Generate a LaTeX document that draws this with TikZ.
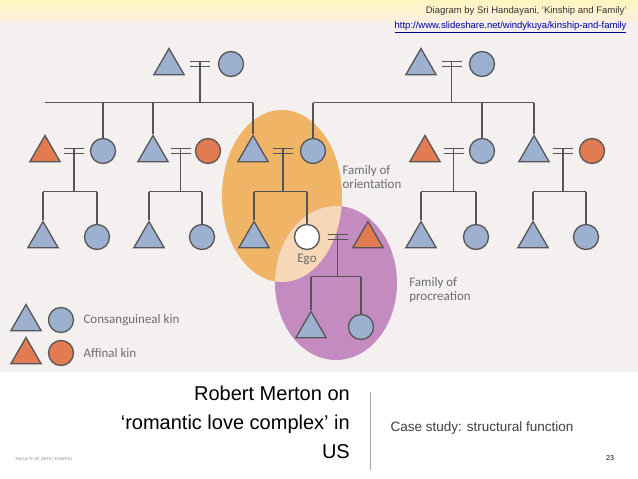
\documentclass[tikz,border=0pt]{standalone}
\usepackage{fontspec}
\setmainfont{Liberation Sans}
\newfontfamily\dg{Carlito}
\usetikzlibrary{shapes.geometric}
\definecolor{kb}{HTML}{9DB0D0}
\definecolor{ko}{HTML}{E27B52}
\definecolor{eo}{HTML}{F0B466}
\definecolor{ep}{HTML}{C48BC0}
\definecolor{ov}{HTML}{F6D8B8}
\definecolor{pan}{HTML}{F4F0F0}
\definecolor{ln}{HTML}{555555}
\tikzset{
 tri/.style={regular polygon,regular polygon sides=3,minimum size=35pt,inner sep=0,draw=ln,line width=1.3pt,yshift=-2pt},
 circ/.style={circle,minimum size=25pt,inner sep=0,draw=ln,line width=1.3pt},
 ln/.style={draw=ln,line width=1.4pt},
 lab/.style={font=\dg\fontsize{13}{14}\selectfont,text=gray!85!black,align=left}
}
\newcommand{\couple}[6]{% name, tri x, circ x, y, tricolor, circcolor
 \node[tri,fill=#5] (#1t) at (#2,#4) {};
 \node[circ,fill=#6] (#1c) at (#3,#4) {};
 \coordinate (#1m) at ({(#2+#3)/2},#4);
 \draw[ln] ([xshift=-10pt,yshift=-2.5pt]#1m) -- ([xshift=10pt,yshift=-2.5pt]#1m);
 \draw[ln] ([xshift=-10pt,yshift=2.5pt]#1m) -- ([xshift=10pt,yshift=2.5pt]#1m);
}
\begin{document}
\begin{tikzpicture}[x=1pt,y=-1pt]
\useasboundingbox (0,0) rectangle (638,479);
\fill[white] (0,0) rectangle (638,479);
\shade[top color=orange!30!yellow!25,bottom color=orange!12] (0,0) rectangle (638,22);
\fill[pan] (0,22) rectangle (638,372);
% ellipses
\fill[eo] (282,196) ellipse [x radius=60,y radius=86];
\fill[ep] (336,283) ellipse [x radius=61,y radius=77];
\begin{scope}
\clip (282,196) ellipse [x radius=60,y radius=86];
\fill[ov] (336,283) ellipse [x radius=61,y radius=77];
\end{scope}
% header
\node[anchor=east,font=\fontsize{9.5}{11}\selectfont,text=black!80] (h1) at (630,11) {Diagram by Sri Handayani, ‘Kinship and Family’};
\node[anchor=east,font=\fontsize{9.5}{11}\selectfont,text=blue!60!black] (h2) at (630,27) {\underline{http://www.slideshare.net/windykuya/kinship-and-family}};
% generation 1
\couple{A}{169}{231}{64}{kb}{kb}
\couple{B}{421}{482}{64}{kb}{kb}
% generation 2
\couple{C}{45}{103}{151}{ko}{kb}
\couple{D}{153}{208}{151}{kb}{ko}
\couple{E}{253}{313}{151}{kb}{kb}
\couple{F}{425}{482}{151}{ko}{kb}
\couple{G}{534}{592}{151}{kb}{ko}
% generation 3
\node[tri,fill=kb] (c1) at (43,237) {};
\node[circ,fill=kb] (c2) at (97,237) {};
\node[tri,fill=kb] (d1) at (149,237) {};
\node[circ,fill=kb] (d2) at (202,237) {};
\node[tri,fill=kb] (e1) at (254,237) {};
\couple{H}{368}{307}{237}{ko}{white}
\node[tri,fill=kb] (f1) at (421,237) {};
\node[circ,fill=kb] (f2) at (476,237) {};
\node[tri,fill=kb] (g1) at (533,237) {};
\node[circ,fill=kb] (g2) at (586,237) {};
% generation 4
\node[tri,fill=kb] (h1c) at (311,327) {};
\node[circ,fill=kb] (h2c) at (361,327) {};
% connectors
\draw[ln] ([yshift=2.5pt]Am) -- ++(0,41) coordinate (Ab);
\draw[ln] (Ct.north |- Ab) -- (Et.north |- Ab);
\draw[ln] (Cc.north |- Ab) -- (Cc.north);
\draw[ln] (Dt.north |- Ab) -- (Dt.north);
\draw[ln] (Et.north |- Ab) -- (Et.north);
\draw[ln] ([yshift=2.5pt]Bm) -- ++(0,41) coordinate (Bb);
\draw[ln] (Ec.north |- Bb) -- (Gt.north |- Bb);
\draw[ln] (Ec.north |- Bb) -- (Ec.north);
\draw[ln] (Fc.north |- Bb) -- (Fc.north);
\draw[ln] (Gt.north |- Bb) -- (Gt.north);
\foreach \m/\a/\b in {C/c1/c2,D/d1/d2,E/e1/Hc,F/f1/f2,G/g1/g2}{
 \draw[ln] ([yshift=2.5pt]\m m) -- ++(0,43) coordinate (\m b);
 \draw[ln] (\a.north |- \m b) -- (\b.north |- \m b);
 \draw[ln] (\a.north |- \m b) -- (\a.north);
 \draw[ln] (\b.north |- \m b) -- (\b.north);
}
\draw[ln] ([yshift=2.5pt]Hm) -- ++(0,42) coordinate (Hb);
\draw[ln] (h1c.north |- Hb) -- (h2c.north |- Hb);
\draw[ln] (h1c.north |- Hb) -- (h1c.north);
\draw[ln] (h2c.north |- Hb) -- (h2c.north);
% labels
\node[lab] (fo) at (372,177) {Family of\\orientation};
\node[lab] (fp) at (440,290) {Family of\\procreation};
\node[lab] (ego) at (307,259) {Ego};
% legend
\node[tri,fill=kb] (l1) at (26,320) {};
\node[circ,fill=kb] (l2) at (61,320) {};
\node[lab,anchor=west] (lt1) at (80,320) {Consanguineal kin};
\node[tri,fill=ko] (l3) at (26,353) {};
\node[circ,fill=ko] (l4) at (61,353) {};
\node[lab,anchor=west] (lt2) at (80,353) {Affinal kin};
% bottom
\node[anchor=north east,align=right,font=\fontsize{20}{29}\selectfont,inner sep=0] (t) at (350,386) {Robert Merton on\\‘romantic love complex’ in\\US};
\draw[gray!70,line width=0.8pt] (370,392) coordinate (v1) -- (370,470) coordinate (v2);
\node[anchor=west,font=\fontsize{13.5}{15}\selectfont,text=black!75] (cs) at (387,428) {Case study: structural function};
\node[anchor=west,font=\fontsize{4}{5}\selectfont,text=gray] (fa) at (12,459) {FACULTY OF ARTS | FOAR701};
\node[font=\fontsize{7}{8}\selectfont] (pg) at (610,458) {23};
\end{tikzpicture}
\end{document}
